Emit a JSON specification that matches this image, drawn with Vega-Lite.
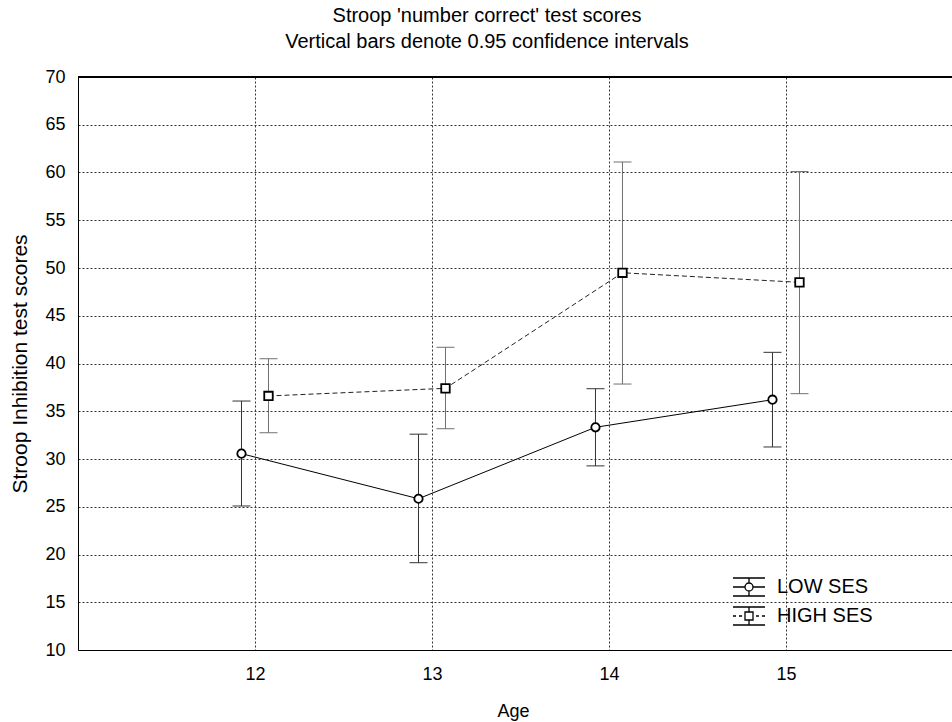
{
  "$schema": "https://vega.github.io/schema/vega-lite/v6.json",
  "width": 874,
  "height": 573,
  "autosize": {"type": "none"},
  "padding": {"left": 78, "top": 77, "right": 0, "bottom": 72},
  "background": "white",
  "config": {
    "font": "Liberation Sans",
    "view": {"stroke": null},
    "axis": {"domainColor": "black", "labelColor": "black", "titleColor": "black", "titleFontWeight": "normal", "labelFont": "Liberation Sans", "titleFont": "Liberation Sans"}
  },
  "title": {
    "text": ["Stroop 'number correct' test scores", "Vertical bars denote 0.95 confidence intervals"],
    "fontSize": 20,
    "fontWeight": "normal",
    "font": "Liberation Sans",
    "color": "black",
    "lineHeight": 26,
    "dx": -28,
    "offset": 16
  },
  "data": {
    "values": [
      {"group": "LOW SES", "age": 12, "mean": 30.56, "lo": 25.08, "hi": 36.07},
      {"group": "LOW SES", "age": 13, "mean": 25.84, "lo": 19.14, "hi": 32.6},
      {"group": "LOW SES", "age": 14, "mean": 33.32, "lo": 29.28, "hi": 37.36},
      {"group": "LOW SES", "age": 15, "mean": 36.21, "lo": 31.26, "hi": 41.17},
      {"group": "HIGH SES", "age": 12, "mean": 36.6, "lo": 32.75, "hi": 40.5},
      {"group": "HIGH SES", "age": 13, "mean": 37.4, "lo": 33.17, "hi": 41.7},
      {"group": "HIGH SES", "age": 14, "mean": 49.5, "lo": 37.85, "hi": 61.1},
      {"group": "HIGH SES", "age": 15, "mean": 48.5, "lo": 36.84, "hi": 60.1}
    ]
  },
  "layer": [
    {
      "transform": [{"filter": "datum.group == 'LOW SES'"}],
      "mark": {"type": "rule", "color": "#333333", "strokeWidth": 1, "xOffset": -13.5},
      "encoding": {
        "x": {
          "field": "age", "type": "quantitative",
          "scale": {"domain": [11, 15.938], "nice": false, "zero": false},
          "axis": {
            "values": [12, 13, 14, 15], "format": "d", "grid": true, "gridDash": [2, 2], "gridColor": "#333333", "gridWidth": 1,
            "ticks": false, "tickSize": 0, "labelFontSize": 18, "labelPadding": 29, "labelBaseline": "alphabetic", "labelFlush": false,
            "title": "Age", "titleFontSize": 18, "titleX": 435, "titleY": 66, "titleBaseline": "alphabetic", "titleAlign": "center"
          }
        },
        "y": {
          "field": "lo", "type": "quantitative",
          "scale": {"domain": [10, 70], "nice": false, "zero": false},
          "axis": {
            "values": [10, 15, 20, 25, 30, 35, 40, 45, 50, 55, 60, 65, 70], "format": "d", "grid": true, "gridDash": [2, 2], "gridColor": "#333333", "gridWidth": 1,
            "ticks": false, "tickSize": 0, "labelFontSize": 18, "labelPadding": 13, "labelBaseline": "middle", "labelFlush": false,
            "title": "Stroop Inhibition test scores", "titleFontSize": 21, "titleX": -58, "titleY": 286.5, "titleAngle": -90, "titleBaseline": "middle", "titleAlign": "center"
          }
        },
        "y2": {"field": "hi"}
      }
    },
    {
      "transform": [{"filter": "datum.group == 'HIGH SES'"}],
      "mark": {"type": "rule", "color": "#707070", "strokeWidth": 1, "xOffset": 13.5},
      "encoding": {
        "x": {"field": "age", "type": "quantitative"},
        "y": {"field": "lo", "type": "quantitative"},
        "y2": {"field": "hi"}
      }
    },
    {
      "transform": [{"filter": "datum.group == 'LOW SES'"}, {"fold": ["lo", "hi"], "as": ["bound", "val"]}],
      "mark": {"type": "tick", "orient": "horizontal", "size": 18, "thickness": 1, "color": "#333333", "opacity": 1, "xOffset": -13.5},
      "encoding": {
        "x": {"field": "age", "type": "quantitative"},
        "y": {"field": "val", "type": "quantitative"}
      }
    },
    {
      "transform": [{"filter": "datum.group == 'HIGH SES'"}, {"fold": ["lo", "hi"], "as": ["bound", "val"]}],
      "mark": {"type": "tick", "orient": "horizontal", "size": 18, "thickness": 1, "color": "#707070", "opacity": 1, "xOffset": 13.5},
      "encoding": {
        "x": {"field": "age", "type": "quantitative"},
        "y": {"field": "val", "type": "quantitative"}
      }
    },
    {
      "transform": [{"filter": "datum.group == 'LOW SES'"}],
      "mark": {"type": "line", "color": "black", "strokeWidth": 1, "xOffset": -13.5},
      "encoding": {
        "x": {"field": "age", "type": "quantitative"},
        "y": {"field": "mean", "type": "quantitative"}
      }
    },
    {
      "transform": [{"filter": "datum.group == 'HIGH SES'"}],
      "mark": {"type": "line", "color": "#222222", "strokeWidth": 1, "strokeDash": [5, 3], "xOffset": 13.5},
      "encoding": {
        "x": {"field": "age", "type": "quantitative"},
        "y": {"field": "mean", "type": "quantitative"}
      }
    },
    {
      "transform": [{"filter": "datum.group == 'LOW SES'"}],
      "mark": {"type": "point", "shape": "circle", "filled": true, "fill": "white", "stroke": "black", "strokeWidth": 1.8, "size": 70, "opacity": 1, "xOffset": -13.5},
      "encoding": {
        "x": {"field": "age", "type": "quantitative"},
        "y": {"field": "mean", "type": "quantitative"}
      }
    },
    {
      "transform": [{"filter": "datum.group == 'HIGH SES'"}],
      "mark": {"type": "point", "shape": "square", "filled": true, "fill": "white", "stroke": "black", "strokeWidth": 1.8, "size": 72, "opacity": 1, "xOffset": 13.5},
      "encoding": {
        "x": {"field": "age", "type": "quantitative"},
        "y": {"field": "mean", "type": "quantitative"}
      }
    },
    {
      "mark": {"type": "rule", "color": "black", "strokeWidth": 1},
      "encoding": {"y": {"datum": 70}}
    },
    {
      "transform": [{"filter": "false"}],
      "mark": {"type": "point", "filled": false, "stroke": "black", "strokeWidth": 1.3, "opacity": 1},
      "encoding": {
        "x": {"field": "age", "type": "quantitative"},
        "y": {"field": "mean", "type": "quantitative"},
        "shape": {
          "field": "group", "type": "nominal",
          "scale": {
            "domain": ["LOW SES", "HIGH SES"],
            "range": [
              "M-1.6,-0.9H1.6M-1.6,0.9H1.6M0,-0.9V-0.4M0,0.4V0.9M-1.6,0H-0.4M0.4,0H1.6M0.4,0A0.4,0.4,0,1,1,-0.4,0A0.4,0.4,0,1,1,0.4,0Z",
              "M-1.6,-0.9H1.6M-1.6,0.9H1.6M0,-0.9V-0.4M0,0.4V0.9M-1.6,0H-1.3M-1.0,0H-0.7M0.7,0H1.0M1.3,0H1.6M-0.4,-0.4H0.4V0.4H-0.4Z"
            ]
          },
          "legend": {
            "orient": "none", "legendX": 660, "legendY": 499, "title": null, "padding": 0,
            "symbolSize": 400, "symbolStrokeWidth": 1.3, "symbolStrokeColor": "black",
            "labelFontSize": 20, "labelFont": "Liberation Sans", "labelColor": "black", "labelOffset": 17, "rowPadding": 5
          }
        }
      }
    }
  ]
}
